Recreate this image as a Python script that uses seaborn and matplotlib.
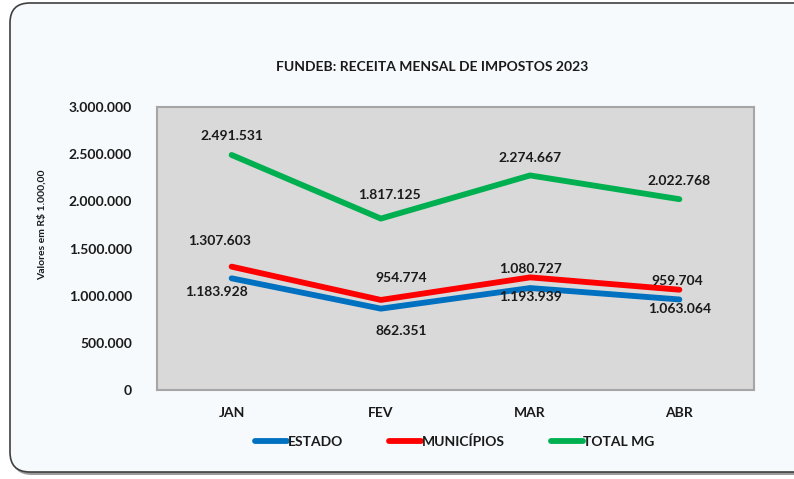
import matplotlib
matplotlib.use("Agg")
import matplotlib.pyplot as plt
import seaborn as sns
import pandas as pd
from matplotlib.patches import FancyBboxPatch
from matplotlib.ticker import FuncFormatter
from matplotlib.transforms import offset_copy

months = ["JAN", "FEV", "MAR", "ABR"]
estado = [1183928, 862351, 1080727, 959704]
municipios = [1307603, 954774, 1193939, 1063064]
total_mg = [2491531, 1817125, 2274667, 2022768]
# printed data labels as they appear in the chart
estado_labels = [1183928, 862351, 1193939, 1063064]
municipios_labels = [1307603, 954774, 1080727, 959704]
series_names = ["ESTADO", "MUNICÍPIOS", "TOTAL MG"]
title = "FUNDEB: RECEITA MENSAL DE IMPOSTOS 2023"
ylabel = "Valores em R$ 1.000,00"

sns.set_theme(style="white")
plt.rcParams["font.family"] = ["Lato", "DejaVu Sans"]
plt.rcParams["font.weight"] = "bold"

def fmt(v):
    return f"{int(round(v)):,}".replace(",", ".")

df = pd.DataFrame({
    "mes": months * 3,
    "valor": estado + municipios + total_mg,
    "serie": [series_names[0]] * 4 + [series_names[1]] * 4 + [series_names[2]] * 4,
})
df["x"] = list(range(4)) * 3

W, H = 794, 479
fig = plt.figure(figsize=(W / 100, H / 100), dpi=100)
fig.patch.set_facecolor("white")
shadow = FancyBboxPatch((12 / W, 4 / H), (W + 20) / W, (H - 10) / H,
                        boxstyle="round,pad=0,rounding_size=0.025",
                        transform=fig.transFigure, facecolor="#9a9a9a",
                        edgecolor="none", zorder=-3, mutation_aspect=W / H)
frame = FancyBboxPatch((10 / W, 7 / H), (W + 20) / W, (H - 10) / H,
                       boxstyle="round,pad=0,rounding_size=0.025",
                       transform=fig.transFigure, facecolor="#F6FAFD",
                       edgecolor="#404040", linewidth=1.2, zorder=-2,
                       mutation_aspect=W / H)
fig.patches.append(shadow)
fig.patches.append(frame)

ax = fig.add_axes([157 / W, (H - 390) / H, (754 - 157) / W, (390 - 107) / H])
ax.set_zorder(1)
ax.set_facecolor("#D9D9D9")
for s in ax.spines.values():
    s.set_color("#A6A6A6")
    s.set_linewidth(1.5)

palette = {"ESTADO": "#0070C0", "MUNICÍPIOS": "#FF0000", "TOTAL MG": "#00B050"}
sns.lineplot(data=df, x="x", y="valor", hue="serie", palette=palette,
             linewidth=4.2, ax=ax, legend=True, sort=False)
for ln in ax.lines:
    ln.set_solid_capstyle("round")
    ln.set_solid_joinstyle("round")

ax.set_xlim(-0.5, 3.5)
ax.set_ylim(0, 3000000)
ax.set_yticks(range(0, 3000001, 500000))
ax.yaxis.set_major_formatter(FuncFormatter(lambda v, p: fmt(v)))
ax.set_xticks(range(4))
ax.set_xticklabels(months)
ax.tick_params(axis="y", length=0, pad=18, labelsize=10, colors="#1a1a1a")
ax.tick_params(axis="x", length=0, pad=12, labelsize=10, colors="#1a1a1a")
for t in ax.get_xticklabels() + ax.get_yticklabels():
    t.set_fontweight("bold")
ax.set_xlabel("")
ax.set_ylabel("")

def lab(x, y, text, dx, dy):
    tr = offset_copy(ax.transData, fig=fig, x=dx, y=-dy, units="dots")
    ax.text(x, y, text, transform=tr, ha="center", va="center",
            fontsize=10, fontweight="bold", color="#1a1a1a")

tot_off = [(0, -19), (9, -24), (0, -17), (0, -18)]
mun_off = [(-12, -26), (20, -22), (0, -8), (-2, -9)]
est_off = [(-15, 14), (20, 22), (0, 9), (0, 10)]
for i in range(4):
    lab(i, total_mg[i], fmt(total_mg[i]), *tot_off[i])
    lab(i, municipios[i], fmt(municipios_labels[i]), *mun_off[i])
    lab(i, estado[i], fmt(estado_labels[i]), *est_off[i])

fig.text(432 / W, 1 - 67 / H, title, ha="center", va="center",
         fontsize=10, fontweight="bold", color="#1a1a1a")
fig.text(42 / W, 1 - 225 / H, ylabel, ha="center", va="center",
         rotation=90, fontsize=7.5, fontweight="bold", color="#1a1a1a")

handles, labels = ax.get_legend_handles_labels()
ax.get_legend().remove()
for h in handles:
    h.set_linewidth(4.2)
    h.set_solid_capstyle("round")
leg = fig.legend(handles, labels, loc="center", bbox_to_anchor=(455 / W, 1 - 442 / H),
                 ncol=3, frameon=False, handlelength=2.3, handletextpad=0.05,
                 columnspacing=3.3, prop={"size": 10, "weight": "bold"})
for t in leg.get_texts():
    t.set_color("#1a1a1a")

fig.savefig("out.png", dpi=100)
